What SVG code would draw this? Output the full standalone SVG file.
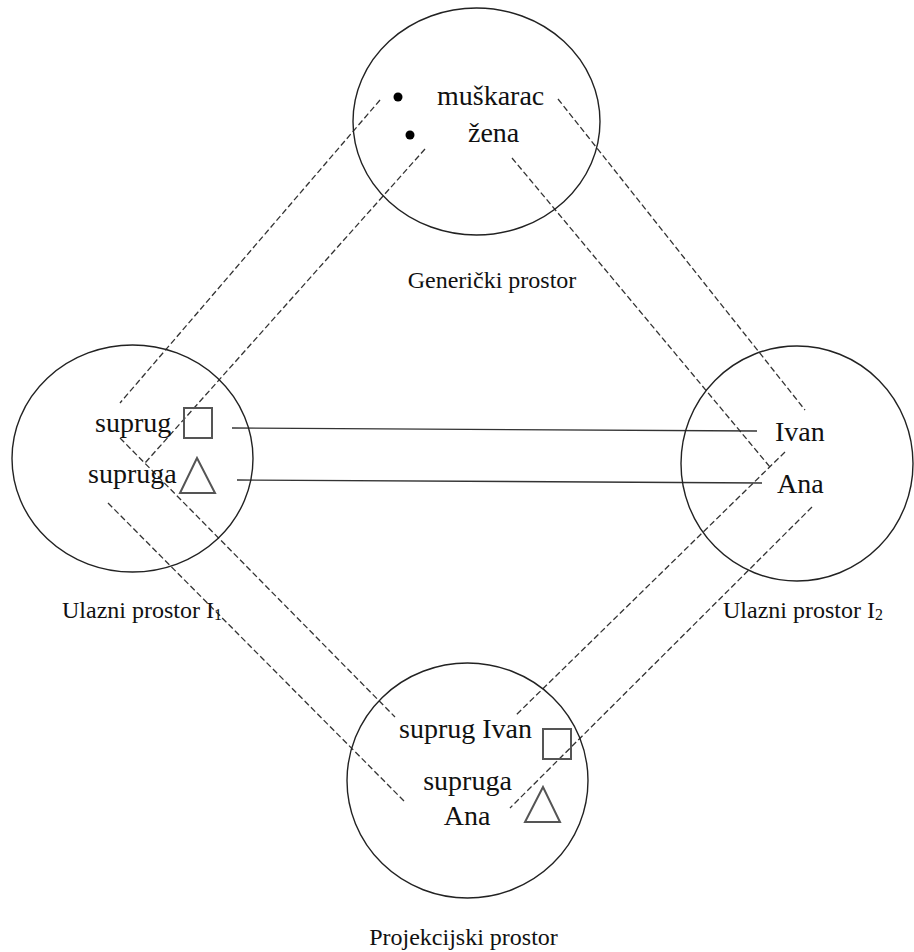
<svg xmlns="http://www.w3.org/2000/svg" width="914" height="952" viewBox="0 0 914 952">
<style>
.c{fill:none;stroke:#222;stroke-width:1.4}
.t{fill:#111}
.n{font-size:28px}
.l{font-size:24px}
.s{fill:none;stroke:#555;stroke-width:2}
.d{stroke:#333;stroke-width:1.3;stroke-dasharray:6 3;fill:none}
.ln{stroke:#333;stroke-width:1.4;fill:none}
</style>
<rect width="914" height="952" fill="#fff"/>
<g id="connectors">
<line class="d" x1="380" y1="100" x2="120" y2="403"/>
<line class="d" x1="425" y1="149" x2="145" y2="463"/>
<line class="d" x1="558" y1="99" x2="805" y2="410"/>
<line class="d" x1="512" y1="158" x2="770" y2="467"/>
<line class="d" x1="120" y1="438" x2="395" y2="717"/>
<line class="d" x1="108" y1="503" x2="406" y2="803"/>
<line class="d" x1="785" y1="452" x2="515" y2="716"/>
<line class="d" x1="812" y1="507" x2="510" y2="808"/>
<line class="ln" x1="232" y1="428" x2="757" y2="431"/>
<line class="ln" x1="237" y1="480" x2="762" y2="483"/>
</g>
<g font-family="'Liberation Serif', 'Times New Roman', 'DejaVu Serif', serif">
<g id="genericki">
<ellipse class="c" cx="476.5" cy="121.5" rx="123.5" ry="113.5"/>
<circle cx="398" cy="97" r="4.5" fill="#000"/>
<circle cx="410" cy="135" r="4.5" fill="#000"/>
<text class="t n" x="437" y="105">muškarac</text>
<text class="t n" x="468" y="142">žena</text>
<text class="t l" x="492" y="288" text-anchor="middle">Generički prostor</text>
</g>
<g id="ulazni1">
<ellipse class="c" cx="132.5" cy="458.5" rx="120.5" ry="113.5"/>
<text class="t n" x="95" y="432">suprug</text>
<text class="t n" x="88" y="483">supruga</text>
<rect class="s" x="184" y="408" width="28" height="30"/>
<polygon class="s" points="197,458 180,493 215,493"/>
<text class="t l" x="62" y="618">Ulazni prostor I<tspan font-size="16" dy="2">1</tspan></text>
</g>
<g id="ulazni2">
<ellipse class="c" cx="797" cy="463.5" rx="116" ry="117.5"/>
<text class="t n" x="775" y="441">Ivan</text>
<text class="t n" x="777" y="493">Ana</text>
<text class="t l" x="723" y="618">Ulazni prostor I<tspan font-size="16" dy="2">2</tspan></text>
</g>
<g id="projekcijski">
<ellipse class="c" cx="467.5" cy="780.5" rx="120.5" ry="117.5"/>
<text class="t n" x="399" y="738">suprug Ivan</text>
<text class="t n" x="467.5" y="790" text-anchor="middle">supruga</text>
<text class="t n" x="467" y="825" text-anchor="middle">Ana</text>
<rect class="s" x="543" y="729" width="28" height="30"/>
<polygon class="s" points="543,787 525,822 560,822"/>
<text class="t l" x="463.5" y="945" text-anchor="middle">Projekcijski prostor</text>
</g>
</g>
</svg>
